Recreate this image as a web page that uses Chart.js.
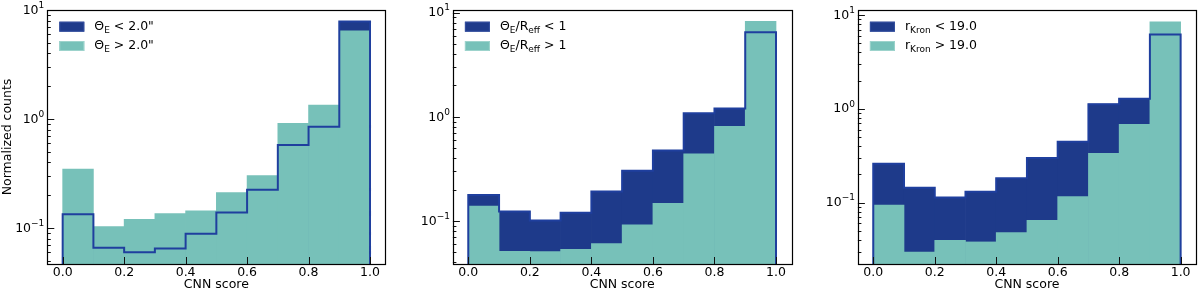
<!DOCTYPE html>
<html>
<head>
<meta charset="utf-8">
<script src="https://cdn.jsdelivr.net/npm/chart.js@4/dist/chart.umd.min.js"></script>
<style>
    html, body { margin: 0; padding: 0; background: #fff; }
    #wrap { position: relative; width: 1200px; height: 292px; }
    #wrap canvas { position: absolute; top: 0; }
</style>
</head>
<body>
<div id="wrap">
    <canvas id="c1" width="400" height="292" style="left:0px"></canvas>
    <canvas id="c2" width="400" height="292" style="left:400px"></canvas>
    <canvas id="c3" width="400" height="292" style="left:800px"></canvas>
</div>
<script>
// histogram bins (CNN score)
const binEdges = [0.0, 0.1, 0.2, 0.3, 0.4, 0.5, 0.6, 0.7, 0.8, 0.9, 1.0];
const xTicks = [0.0, 0.2, 0.4, 0.6, 0.8, 1.0];
const yTicks = [0.1, 1, 10];
const yTickExp = ['\u22121', '0', '1'];

// panel 1: Einstein radius
const thetaSmall = [0.134, 0.0658, 0.060, 0.0649, 0.0885, 0.139, 0.224, 0.578, 0.851, 7.85];
const thetaLarge = [0.348, 0.103, 0.120, 0.136, 0.144, 0.211, 0.303, 0.912, 1.34, 6.44];

// panel 2: Einstein radius / effective radius
const ratioSmall = [0.177, 0.123, 0.101, 0.120, 0.192, 0.303, 0.475, 1.08, 1.20, 6.48];
const ratioLarge = [0.139, 0.0512, 0.0508, 0.0535, 0.0606, 0.0916, 0.148, 0.442, 0.808, 8.26];

// panel 3: Kron magnitude
const kronBright = [0.259, 0.144, 0.113, 0.130, 0.181, 0.298, 0.445, 1.12, 1.28, 6.2];
const kronFaint = [0.094, 0.0297, 0.0395, 0.038, 0.0477, 0.0646, 0.116, 0.334, 0.681, 8.46];

const NAVY = '#1e3a8a';
const NAVY_LINE = '#1f3f9e';
const TEAL = '#77c1b9';
const FONT = "'DejaVu Sans', sans-serif";
const FS = 12.5;

function barPoints(vals) {
    return vals.map((v, i) => ({ x: (binEdges[i] + binEdges[i + 1]) / 2, y: v }));
}

// outline like histtype='step'
function stepPoints(vals, base) {
    const pts = [{ x: binEdges[0], y: base }];
    vals.forEach((v, i) => {
        pts.push({ x: binEdges[i], y: v });
        pts.push({ x: binEdges[i + 1], y: v });
    });
    pts.push({ x: binEdges[binEdges.length - 1], y: base });
    return pts;
}

const frameTicks = {
    id: 'frameTicks',
    afterDatasetsDraw(chart, args, opts) {
        const { ctx, chartArea: a, scales: { x, y } } = chart;
        ctx.save();
        ctx.strokeStyle = '#111';
        ctx.lineWidth = 1;
        ctx.beginPath();
        xTicks.forEach(v => {
            const px = Math.round(x.getPixelForValue(v)) + 0.5;
            ctx.moveTo(px, a.bottom);
            ctx.lineTo(px, a.bottom - 7);
        });
        const d0 = Math.floor(Math.log10(y.min)), d1 = Math.ceil(Math.log10(y.max));
        for (let d = d0; d <= d1; d++) {
            for (let m = 1; m <= 9; m++) {
                const v = m * Math.pow(10, d);
                if (v < y.min || v > y.max) continue;
                const py = Math.round(y.getPixelForValue(v)) + 0.5;
                ctx.moveTo(a.left, py);
                ctx.lineTo(a.left + (m === 1 ? 7 : 3.5), py);
            }
        }
        ctx.stroke();

        ctx.lineWidth = 1.2;
        ctx.strokeStyle = '#000';
        ctx.strokeRect(Math.round(a.left) + 0.5, Math.round(a.top) + 0.5,
            Math.round(a.right - a.left), Math.round(a.bottom - a.top));

        // y tick labels, 10 with raised exponent
        ctx.fillStyle = '#000';
        ctx.textBaseline = 'middle';
        ctx.textAlign = 'left';
        yTicks.forEach((v, i) => {
            const py = y.getPixelForValue(v);
            ctx.font = '9px ' + FONT;
            const ew = ctx.measureText(yTickExp[i]).width;
            ctx.font = FS + 'px ' + FONT;
            const bw = ctx.measureText('10').width;
            const right = a.left - 3;
            ctx.fillText('10', right - ew - bw, py + 0.5);
            ctx.font = '9px ' + FONT;
            ctx.fillText(yTickExp[i], right - ew, py - 4.5);
        });

        // legend with subscripts
        (opts.entries || []).forEach((e, row) => {
            const cy = a.top + 16.7 + row * 19.3;
            const px = a.left + 12;
            ctx.fillStyle = e.color;
            ctx.fillRect(px, cy - 5, 25, 10);
            ctx.strokeStyle = e.edge;
            ctx.lineWidth = 1;
            ctx.strokeRect(px + 0.5, cy - 4.5, 24, 9);
            let tx = a.left + 47;
            ctx.fillStyle = '#000';
            e.parts.forEach(([txt, sub]) => {
                ctx.font = (sub ? '9px ' : FS + 'px ') + FONT;
                ctx.fillText(txt, tx, cy + (sub ? 3.5 : 0));
                tx += ctx.measureText(txt).width;
            });
        });
        ctx.restore();
    }
};

function makePanel(id, small, large, yMin, yMax, yWidth, padRight, showYTitle, legendParts) {
    new Chart(document.getElementById(id), {
        type: 'bar',
        data: {
            datasets: [
                {
                    type: 'line',
                    data: stepPoints(small, yMin),
                    borderColor: NAVY_LINE,
                    borderWidth: 2,
                    pointRadius: 0,
                    fill: false,
                    tension: 0,
                    order: 0
                },
                {
                    data: barPoints(large),
                    backgroundColor: TEAL,
                    barPercentage: 1,
                    categoryPercentage: 1,
                    grouped: false,
                    order: 1
                },
                {
                    data: barPoints(small),
                    backgroundColor: NAVY,
                    barPercentage: 1,
                    categoryPercentage: 1,
                    grouped: false,
                    order: 2
                }
            ]
        },
        options: {
            responsive: false,
            animation: false,
            devicePixelRatio: 1,
            layout: { padding: { left: 0, right: padRight, top: 10, bottom: 0 } },
            plugins: {
                legend: { display: false },
                tooltip: { enabled: false },
                frameTicks: {
                    entries: [
                        { color: NAVY, edge: '#3550a0', parts: legendParts[0] },
                        { color: TEAL, edge: '#9dd3cc', parts: legendParts[1] }
                    ]
                }
            },
            scales: {
                x: {
                    type: 'linear',
                    min: -0.05,
                    max: 1.05,
                    offset: false,
                    grid: { display: false, drawTicks: false },
                    border: { display: false },
                    afterBuildTicks: s => { s.ticks = xTicks.map(v => ({ value: v })); },
                    afterFit: s => { s.height = 28; },
                    ticks: {
                        autoSkip: false,
                        maxRotation: 0,
                        padding: 1,
                        color: '#000',
                        font: { family: FONT, size: FS },
                        callback: v => v.toFixed(1)
                    },
                    title: {
                        display: true,
                        text: 'CNN score',
                        color: '#000',
                        padding: { top: 0, bottom: 0 },
                        font: { family: FONT, size: FS, lineHeight: 1.1 }
                    }
                },
                y: {
                    type: 'logarithmic',
                    min: yMin,
                    max: yMax,
                    grid: { display: false, drawTicks: false },
                    border: { display: false },
                    afterBuildTicks: s => { s.ticks = yTicks.map(v => ({ value: v })); },
                    afterFit: s => { s.width = yWidth; },
                    ticks: { display: false },
                    title: {
                        display: showYTitle,
                        text: 'Normalized counts',
                        color: '#000',
                        padding: { top: 1, bottom: 0 },
                        font: { family: FONT, size: FS, lineHeight: 1.1 }
                    }
                }
            }
        },
        plugins: [frameTicks]
    });
}

makePanel('c1', thetaSmall, thetaLarge, 0.0468, 10, 47.3, 14.6, true, [
    [['Θ', 0], ['E', 1], [' < 2.0"', 0]],
    [['Θ', 0], ['E', 1], [' > 2.0"', 0]]
]);
makePanel('c2', ratioSmall, ratioLarge, 0.0386, 10.6, 52.9, 8.6, false, [
    [['Θ', 0], ['E', 1], ['/R', 0], ['eff', 1], [' < 1', 0]],
    [['Θ', 0], ['E', 1], ['/R', 0], ['eff', 1], [' > 1', 0]]
]);
makePanel('c3', kronBright, kronFaint, 0.0221, 11.3, 57.9, 4, false, [
    [['r', 0], ['Kron', 1], [' < 19.0', 0]],
    [['r', 0], ['Kron', 1], [' > 19.0', 0]]
]);
</script>
</body>
</html>
